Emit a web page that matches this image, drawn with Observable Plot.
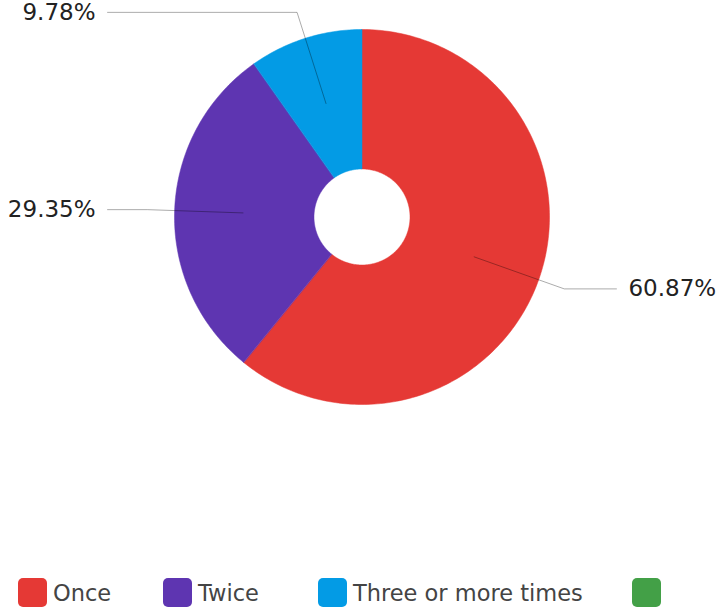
<!DOCTYPE html>
<html><head><meta charset="utf-8">
<script src="https://cdn.jsdelivr.net/npm/d3@7"></script>
<script src="https://cdn.jsdelivr.net/npm/@observablehq/plot@0.6"></script>
<style>
body{margin:0;background:#fff;font-family:"DejaVu Sans",sans-serif;}
#legend{position:relative;height:44px;}
.item{position:absolute;top:13px;display:flex;align-items:center;height:29px;font-size:22.5px;color:#444;white-space:nowrap}
.sw{width:29px;height:29px;border-radius:5px;margin-right:6px;flex:none}
</style></head><body><div id="chart"></div><div id="legend"></div>
<script>
const categories = ["Once", "Twice", "Three or more times", ""];
const values = [60.87, 29.35, 9.78, 0];
const labels = ["60.87%", "29.35%", "9.78%", ""];
const colors = ["#E53935", "#5E35B1", "#039BE5", "#43A047"];
const legendLeft = [18, 163, 318, 632];

const total = d3.sum(values);
const rIn = 48 / 187.5;
const slices = [], leaders = [], texts = [];
let cum = 0;
categories.forEach((c, i) => {
  const v = values[i];
  const a0 = cum / total * 2 * Math.PI;
  cum += v;
  const a1 = cum / total * 2 * Math.PI;
  if (v <= 0) return;
  const n = Math.max(2, Math.ceil((a1 - a0) / (2 * Math.PI) * 360));
  for (let k = 0; k <= n; k++) {
    const a = a0 + (a1 - a0) * k / n;
    slices.push({cat: c, x: Math.sin(a), y: Math.cos(a)});
  }
  for (let k = n; k >= 0; k--) {
    const a = a0 + (a1 - a0) * k / n;
    slices.push({cat: c, x: rIn * Math.sin(a), y: rIn * Math.cos(a)});
  }
  const m = (a0 + a1) / 2;
  const side = Math.sin(m) >= 0 ? 1 : -1;
  const ey = 1.145 * Math.cos(m);
  leaders.push({cat: c, x: 0.635 * Math.sin(m), y: 0.635 * Math.cos(m)});
  leaders.push({cat: c, x: 1.145 * Math.sin(m), y: ey});
  leaders.push({cat: c, x: side * 1.357, y: ey});
  texts.push({label: labels[i], x: side * 1.421, y: ey, anchor: side > 0 ? "start" : "end"});
});

const chart = Plot.plot({
  width: 719,
  height: 565,
  margin: 0,
  style: {fontFamily: "DejaVu Sans", background: "#fff"},
  x: {domain: [-1, 1], range: [174, 549], axis: null},
  y: {domain: [-1, 1], range: [404, 29], axis: null},
  color: {domain: categories, range: colors},
  marks: [
    Plot.line(slices, {x: "x", y: "y", z: "cat", fill: "cat", stroke: "cat", strokeWidth: 0.5, curve: "linear-closed"}),
    Plot.line(leaders, {x: "x", y: "y", z: "cat", stroke: "#000", strokeOpacity: 0.33, strokeWidth: 1}),
    Plot.text(texts.filter(d => d.anchor === "start"), {x: "x", y: "y", text: "label", textAnchor: "start", fontSize: 23, fill: "#222"}),
    Plot.text(texts.filter(d => d.anchor === "end"), {x: "x", y: "y", text: "label", textAnchor: "end", fontSize: 23, fill: "#222"})
  ]
});
document.getElementById("chart").appendChild(chart);

const legend = document.getElementById("legend");
categories.forEach((c, i) => {
  const item = document.createElement("div");
  item.className = "item";
  item.style.left = legendLeft[i] + "px";
  const sw = document.createElement("div");
  sw.className = "sw";
  sw.style.background = colors[i];
  item.appendChild(sw);
  const t = document.createElement("span");
  t.textContent = c;
  item.appendChild(t);
  legend.appendChild(item);
});
</script></body></html>
